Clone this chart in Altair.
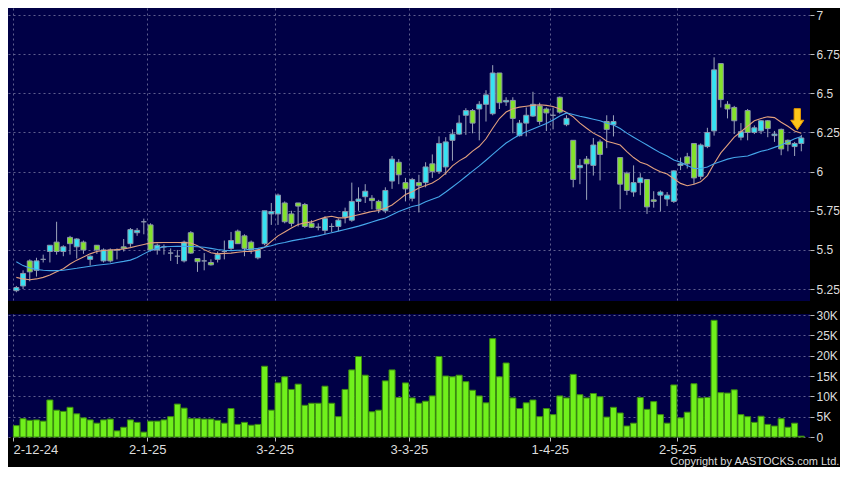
import altair as alt
import pandas as pd

# ---- data (HKD price, volume in thousands) ----
opens = [5.24, 5.27, 5.43, 5.37, 5.44, 5.49, 5.55, 5.49, 5.58, 5.52,
         5.55, 5.44, 5.53, 5.43, 5.50, 5.50, 5.52, 5.54, 5.61, 5.68,
         5.66, 5.50, 5.52, 5.48, 5.46, 5.43, 5.61, 5.445, 5.43, 5.42,
         5.44, 5.49, 5.51, 5.62, 5.59, 5.55, 5.45, 5.54, 5.73, 5.73,
         5.80, 5.73, 5.80, 5.79, 5.67, 5.645, 5.625, 5.65, 5.65, 5.71,
         5.69, 5.81, 5.84, 5.83, 5.81, 5.75, 5.94, 6.06, 5.93, 5.83,
         5.93, 5.93, 6.05, 6.00, 6.03, 6.20, 6.24, 6.36, 6.39, 6.40,
         6.43, 6.37, 6.63, 6.445, 6.455, 6.23, 6.31, 6.355, 6.42, 6.40,
         6.36, 6.475, 6.30, 6.20, 6.025, 6.08, 6.04, 6.19, 6.32, 6.30,
         6.09, 5.99, 5.87, 5.93, 5.95, 5.82, 5.85, 5.825, 5.81, 6.04,
         6.095, 6.18, 5.97, 6.16, 6.26, 6.69, 6.43, 6.41, 6.22, 6.39,
         6.25, 6.26, 6.325, 6.23, 6.27, 6.20, 6.16, 6.18]
highs = [5.27, 5.37, 5.44, 5.45, 5.47, 5.53, 5.68, 5.53, 5.59, 5.575,
         5.56, 5.465, 5.53, 5.51, 5.51, 5.51, 5.57, 5.64, 5.64, 5.70,
         5.67, 5.54, 5.535, 5.51, 5.50, 5.56, 5.62, 5.445, 5.48, 5.44,
         5.49, 5.56, 5.615, 5.63, 5.60, 5.56, 5.51, 5.75, 5.80, 5.86,
         5.81, 5.75, 5.80, 5.80, 5.69, 5.67, 5.715, 5.67, 5.70, 5.77,
         5.93, 5.90, 5.92, 5.85, 5.82, 5.90, 6.10, 6.08, 5.96, 5.96,
         5.98, 6.06, 6.11, 6.225, 6.22, 6.27, 6.36, 6.405, 6.40, 6.45,
         6.52, 6.68, 6.63, 6.475, 6.475, 6.33, 6.41, 6.51, 6.44, 6.41,
         6.41, 6.48, 6.36, 6.20, 6.08, 6.10, 6.215, 6.205, 6.36, 6.36,
         6.09, 6.00, 6.04, 5.99, 5.95, 5.875, 5.88, 5.87, 6.01, 6.09,
         6.12, 6.18, 6.18, 6.28, 6.73, 6.69, 6.45, 6.42, 6.31, 6.40,
         6.295, 6.33, 6.33, 6.26, 6.275, 6.205, 6.19, 6.235]
lows = [5.23, 5.25, 5.30, 5.33, 5.42, 5.42, 5.47, 5.46, 5.47, 5.445,
        5.475, 5.40, 5.475, 5.42, 5.42, 5.44, 5.49, 5.52, 5.59, 5.60,
        5.49, 5.47, 5.47, 5.43, 5.41, 5.42, 5.475, 5.36, 5.37, 5.40,
        5.42, 5.44, 5.50, 5.54, 5.46, 5.475, 5.44, 5.53, 5.66, 5.66,
        5.67, 5.65, 5.65, 5.64, 5.64, 5.625, 5.60, 5.615, 5.62, 5.67,
        5.68, 5.75, 5.80, 5.76, 5.735, 5.735, 5.89, 5.92, 5.81, 5.81,
        5.74, 5.90, 5.96, 5.985, 5.98, 6.07, 6.235, 6.235, 6.245, 6.20,
        6.32, 6.36, 6.40, 6.42, 6.245, 6.225, 6.225, 6.35, 6.30, 6.26,
        6.27, 6.37, 6.29, 5.90, 5.92, 5.82, 5.975, 5.944, 6.15, 6.225,
        5.76, 5.85, 5.84, 5.85, 5.73, 5.77, 5.745, 5.78, 5.80, 6.01,
        6.02, 5.92, 5.95, 6.15, 6.23, 6.41, 6.34, 6.24, 6.20, 6.20,
        6.24, 6.24, 6.22, 6.19, 6.105, 6.13, 6.10, 6.13]
closes = [5.26, 5.35, 5.36, 5.43, 5.44, 5.53, 5.49, 5.52, 5.54, 5.57,
          5.50, 5.46, 5.50, 5.50, 5.43, 5.50, 5.51, 5.63, 5.625, 5.68,
          5.50, 5.53, 5.52, 5.48, 5.46, 5.55, 5.48, 5.425, 5.43, 5.405,
          5.47, 5.49, 5.56, 5.54, 5.51, 5.50, 5.50, 5.75, 5.745, 5.85,
          5.68, 5.67, 5.78, 5.65, 5.645, 5.645, 5.70, 5.65, 5.69, 5.745,
          5.81, 5.825, 5.875, 5.815, 5.76, 5.88, 6.08, 5.98, 5.89, 5.95,
          5.91, 6.03, 6.00, 6.18, 6.19, 6.24, 6.31, 6.39, 6.31, 6.43,
          6.49, 6.63, 6.44, 6.455, 6.34, 6.31, 6.36, 6.43, 6.32, 6.375,
          6.36, 6.38, 6.34, 5.95, 6.04, 6.05, 6.17, 6.11, 6.27, 6.32,
          5.92, 5.88, 5.93, 5.96, 5.775, 5.81, 5.87, 5.85, 6.005, 6.05,
          6.05, 5.96, 6.17, 6.25, 6.65, 6.46, 6.40, 6.325, 6.255, 6.25,
          6.28, 6.325, 6.275, 6.24, 6.145, 6.175, 6.18, 6.215]
volumes_k = [2.8, 4.5, 4.1, 4.2, 3.9, 9.1, 6.6, 6.3, 7.3, 5.7,
             4.7, 4.2, 3.4, 4.2, 4.4, 1.5, 2.4, 4.2, 3.6, 1.2,
             3.9, 3.9, 4.2, 5.0, 8.1, 7.1, 4.5, 4.5, 4.4, 4.4,
             4.1, 3.4, 7.0, 3.1, 3.6, 2.9, 3.1, 17.4, 6.6, 13.3,
             14.8, 11.7, 13.0, 7.8, 8.3, 8.3, 12.5, 8.3, 5.0, 11.7,
             16.5, 19.8, 15.2, 6.2, 6.6, 13.8, 16.5, 9.7, 13.3, 9.6,
             8.3, 8.8, 10.1, 19.8, 15.0, 14.8, 15.2, 13.6, 11.5, 10.1,
             8.4, 24.2, 14.8, 18.2, 9.6, 7.0, 8.4, 9.1, 5.0, 7.0,
             5.5, 10.1, 9.6, 15.4, 10.4, 9.6, 10.7, 9.9, 4.9, 7.3,
             5.9, 2.7, 3.4, 9.7, 6.8, 8.7, 5.5, 3.4, 12.8, 4.7,
             6.1, 13.1, 9.6, 9.7, 28.7, 10.9, 10.8, 11.6, 5.5, 5.0,
             3.6, 5.1, 3.1, 2.7, 4.5, 2.4, 3.4, 0.2]
ma_orange = [5.325, 5.315, 5.31, 5.315, 5.325, 5.34, 5.36, 5.38, 5.41, 5.435,
             5.455, 5.475, 5.49, 5.496, 5.50, 5.502, 5.506, 5.515, 5.525, 5.535,
             5.545, 5.547, 5.548, 5.548, 5.548, 5.547, 5.544, 5.527, 5.502, 5.482,
             5.475, 5.478, 5.48, 5.485, 5.49, 5.49, 5.50, 5.517, 5.555, 5.59,
             5.615, 5.64, 5.663, 5.673, 5.679, 5.694, 5.708, 5.715, 5.705, 5.705,
             5.715, 5.725, 5.735, 5.746, 5.752, 5.767, 5.787, 5.82, 5.854, 5.872,
             5.895, 5.912, 5.927, 5.954, 5.99, 6.037, 6.069, 6.094, 6.131, 6.162,
             6.21, 6.277, 6.339, 6.381, 6.402, 6.412, 6.418, 6.423, 6.427, 6.423,
             6.416, 6.40, 6.378, 6.35, 6.31, 6.277, 6.246, 6.225, 6.194, 6.183,
             6.17, 6.128, 6.09, 6.06, 6.045, 6.02, 6.0, 5.985, 5.955, 5.925,
             5.91, 5.92, 5.935, 5.975, 6.05, 6.12, 6.17, 6.22, 6.255, 6.29,
             6.325, 6.34, 6.35, 6.345, 6.315, 6.29, 6.26, 6.245]
ma_blue = [5.425, 5.40, 5.385, 5.375, 5.37, 5.368, 5.368, 5.37, 5.377, 5.383,
           5.39, 5.396, 5.402, 5.407, 5.412, 5.42, 5.427, 5.435, 5.452, 5.475,
           5.497, 5.51, 5.52, 5.522, 5.523, 5.523, 5.522, 5.52, 5.517, 5.51,
           5.503, 5.498, 5.496, 5.498, 5.50, 5.505, 5.51, 5.518, 5.527, 5.54,
           5.548, 5.558, 5.566, 5.573, 5.582, 5.59, 5.60, 5.61, 5.62, 5.631,
           5.641, 5.652, 5.665, 5.679, 5.692, 5.704, 5.725, 5.746, 5.762, 5.777,
           5.787, 5.808, 5.824, 5.84, 5.87, 5.902, 5.935, 5.969, 6.003, 6.037,
           6.073, 6.11, 6.147, 6.183, 6.21, 6.235, 6.255, 6.273, 6.29, 6.308,
           6.33, 6.355, 6.375, 6.365, 6.354, 6.345, 6.335, 6.325, 6.31, 6.298,
           6.275, 6.246, 6.22, 6.195, 6.17, 6.145, 6.12, 6.10, 6.075, 6.06,
           6.04, 6.02, 6.02, 6.03, 6.05, 6.065, 6.08, 6.09, 6.095, 6.10,
           6.115, 6.13, 6.14, 6.155, 6.17, 6.19, 6.21, 6.225]

tick_idx = [0, 20, 39, 59, 80, 99]
tick_labels = ["2-12-24", "2-1-25", "3-2-25", "3-3-25", "1-4-25", "2-5-25"]
price_ticks = [5.25, 5.5, 5.75, 6.0, 6.25, 6.5, 6.75, 7.0]
vol_ticks = [0, 5, 10, 15, 20, 25, 30]
arrow_idx = [116.4]
arrow_price = [6.335]

# ---- build tables ----
n = len(closes)
df = pd.DataFrame({
    "i": list(range(n)), "open": opens, "high": highs, "low": lows,
    "close": closes, "vol": volumes_k, "ma10": ma_orange, "ma20": ma_blue,
})
df["dir"] = ["up" if c > o else ("down" if c < o else "flat")
             for o, c in zip(opens, closes)]
arrow_df = pd.DataFrame({"i": arrow_idx, "p": arrow_price})

W = 802
xpos = [t - 0.5 for t in tick_idx]
label_expr = " : ".join(f"datum.value == {p} ? '{l}'" for p, l in zip(xpos, tick_labels)) + " : ''"
xscale = alt.Scale(domain=[-0.5, 117.55], nice=False, zero=False)
pscale = alt.Scale(domain=[5.174, 7.045], nice=False, zero=False)
vscale = alt.Scale(domain=[0, 30.25], nice=False)

CYAN = "#36E2F2"
GREEN = "#84E22C"
GRAY = "#B4B8C8"

x_price = alt.X("i:Q", scale=xscale,
                axis=alt.Axis(values=xpos, labels=False, ticks=False, domain=False,
                              grid=True, title=None))
base = alt.Chart(df).encode(x=x_price)

wicks = base.mark_rule(color="#9CA4BA", strokeWidth=1).encode(
    y=alt.Y("low:Q", scale=pscale,
            axis=alt.Axis(orient="right", values=price_ticks, title=None,
                          labelExpr="'' + datum.value")),
    y2="high:Q",
)
bodies = base.mark_bar(size=5, stroke="#8C96AC", strokeWidth=1).encode(
    y="open:Q", y2="close:Q",
    color=alt.Color("dir:N", scale=alt.Scale(domain=["up", "down", "flat"],
                                             range=[CYAN, GREEN, GRAY]), legend=None),
)
line_o = base.mark_line(color="#E2A07E", strokeWidth=1.1).encode(y="ma10:Q")
line_b = base.mark_line(color="#45A6EA", strokeWidth=1.1).encode(y="ma20:Q")
arrow = alt.Chart(arrow_df).mark_point(
    shape="M -0.3 -1 L 0.3 -1 L 0.3 0.1 L 0.62 0.1 L 0 1 L -0.62 0.1 L -0.3 0.1 Z",
    filled=True, size=441, fill="#FFC61A", stroke="#E89A00", strokeWidth=1, opacity=1,
).encode(x=alt.X("i:Q", scale=xscale), y=alt.Y("p:Q", scale=pscale))

price = alt.layer(wicks, bodies, line_o, line_b, arrow).properties(width=W, height=293)

volume = alt.Chart(df).mark_bar(size=6, color="#70F01C", stroke="#3C8C10", strokeWidth=1).encode(
    x=alt.X("i:Q", scale=xscale,
            axis=alt.Axis(values=xpos, labelExpr=label_expr, grid=True, ticks=True,
                          tickSize=4, domain=False, labelFlush=False, title=None,
                          labelAlign={"condition": {"test": "datum.value < 0", "value": "left"},
                                      "value": "center"},
                          labelFontSize=13, labelPadding=2)),
    y=alt.Y("vol:Q", scale=vscale,
            axis=alt.Axis(orient="right", values=vol_ticks, title=None,
                          labelExpr="datum.value == 0 ? '0' : datum.value + 'K'")),
).properties(width=W, height=123)

chart = alt.vconcat(price, volume, spacing=13, bounds="flush").properties(
    background="#000000",
    padding=0,
    title=alt.TitleParams("Copyright by AASTOCKS.com Ltd.", orient="bottom", anchor="end",
                          fontSize=11, font="Liberation Sans", fontWeight="normal",
                          color="#DDDDDD", offset=0),
).configure_view(fill="#000046", stroke=None).configure_axis(
    labelColor="#DDDDDD", labelFont="Liberation Sans", labelFontSize=12,
    tickColor="#BBBBBB", tickSize=4, labelPadding=2,
    gridColor="#5E5E8E", gridDash=[2, 3], gridWidth=1, domain=False,
)

chart.save("out.html", embed_options={"renderer": "svg", "actions": False})
